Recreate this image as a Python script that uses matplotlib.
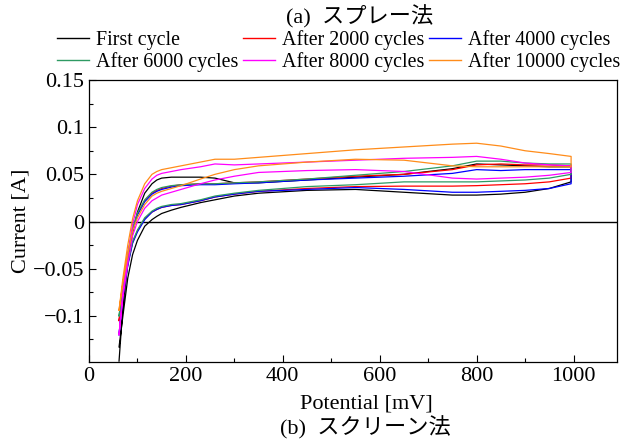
import matplotlib
matplotlib.use("Agg")
import matplotlib.pyplot as plt
from matplotlib.ticker import MultipleLocator
from matplotlib.lines import Line2D

plt.rcParams['font.family'] = ['Liberation Serif', 'Noto Sans CJK JP']

# Potential grid [mV] shared by both scan branches
E = [62, 70, 80, 90, 100, 115, 130, 140, 150, 170, 190, 230, 260, 300, 350, 450,
     550, 650, 750, 800, 850, 900, 950, 995]

# Current [A], forward (upper) and reverse (lower) branches
first_up = [-0.148, -0.09, -0.045, -0.012, 0.010, 0.030, 0.040, 0.044, 0.046, 0.047, 0.047, 0.047,
            0.046, 0.041, 0.041, 0.044, 0.047, 0.050, 0.056, 0.061, 0.060, 0.059, 0.058, 0.058]
first_dn = [-0.133, -0.100, -0.060, -0.035, -0.020, -0.005, 0.002, 0.0055, 0.0085, 0.012, 0.015, 0.020,
            0.023, 0.027, 0.030, 0.033, 0.034, 0.031, 0.028, 0.028, 0.029, 0.031, 0.035, 0.042]

c2000_up = [-0.105, -0.07, -0.035, -0.008, 0.008, 0.022, 0.030, 0.033, 0.035, 0.0375, 0.039, 0.040,
            0.040, 0.041, 0.042, 0.045, 0.048, 0.050, 0.055, 0.060, 0.061, 0.060, 0.060, 0.059]
c2000_dn = [-0.105, -0.075, -0.045, -0.022, -0.010, 0.003, 0.010, 0.0128, 0.015, 0.017, 0.018, 0.022,
            0.026, 0.029, 0.032, 0.035, 0.037, 0.0375, 0.0375, 0.038, 0.039, 0.040, 0.042, 0.046]

c4000_up = [-0.12, -0.075, -0.037, -0.009, 0.007, 0.021, 0.029, 0.032, 0.034, 0.0365, 0.038, 0.039,
            0.039, 0.040, 0.041, 0.044, 0.046, 0.048, 0.051, 0.055, 0.054, 0.055, 0.055, 0.055]
c4000_dn = [-0.12, -0.08, -0.047, -0.023, -0.011, 0.002, 0.010, 0.0128, 0.015, 0.017, 0.018, 0.022,
            0.026, 0.029, 0.032, 0.034, 0.036, 0.034, 0.031, 0.031, 0.032, 0.033, 0.035, 0.040]

c6000_up = [-0.10, -0.068, -0.034, -0.007, 0.009, 0.023, 0.031, 0.034, 0.036, 0.038, 0.039, 0.040,
            0.040, 0.041, 0.042, 0.045, 0.049, 0.053, 0.059, 0.064, 0.064, 0.062, 0.061, 0.061]
c6000_dn = [-0.10, -0.073, -0.044, -0.021, -0.009, 0.004, 0.011, 0.014, 0.016, 0.018, 0.019, 0.023,
            0.027, 0.030, 0.033, 0.037, 0.039, 0.042, 0.042, 0.042, 0.043, 0.044, 0.046, 0.050]

c8000_up = [-0.12, -0.075, -0.035, -0.003, 0.018, 0.035, 0.045, 0.049, 0.051, 0.053, 0.055, 0.058,
            0.061, 0.060, 0.061, 0.063, 0.065, 0.067, 0.068, 0.069, 0.066, 0.062, 0.060, 0.059]
c8000_dn = [-0.12, -0.08, -0.045, -0.015, 0.000, 0.014, 0.022, 0.025, 0.028, 0.031, 0.034, 0.040,
            0.044, 0.048, 0.052, 0.054, 0.055, 0.053, 0.046, 0.045, 0.046, 0.047, 0.049, 0.052]

c10000_up = [-0.094, -0.06, -0.025, 0.003, 0.022, 0.040, 0.050, 0.053, 0.055, 0.057, 0.059, 0.063,
             0.066, 0.066, 0.068, 0.072, 0.076, 0.079, 0.082, 0.083, 0.080, 0.075, 0.072, 0.069]
c10000_dn = [-0.094, -0.065, -0.035, -0.010, 0.004, 0.018, 0.027, 0.030, 0.032, 0.035, 0.038, 0.045,
             0.050, 0.055, 0.059, 0.063, 0.066, 0.065, 0.059, 0.058, 0.058, 0.058, 0.058, 0.058]

labels = ['First cycle', 'After 2000 cycles', 'After 4000 cycles',
          'After 6000 cycles', 'After 8000 cycles', 'After 10000 cycles']
colors = ['#000000', '#ff0000', '#0000ff', '#2e9a63', '#ff00ff', '#ff8c1a']
branches = [(first_up, first_dn), (c2000_up, c2000_dn), (c4000_up, c4000_dn),
            (c6000_up, c6000_dn), (c8000_up, c8000_dn), (c10000_up, c10000_dn)]

fig = plt.figure(figsize=(6.25, 4.41), dpi=100)
ax = fig.add_axes([0.1424, 0.179, 0.845, 0.6396])

ax.axhline(0, color='black', lw=1.0, zorder=1)

handles = []
for lab, col, (up, dn) in zip(labels, colors, branches):
    x = E + E[::-1]
    y = up + dn[::-1]
    ax.plot(x, y, color=col, lw=0.9, zorder=2)
    handles.append(Line2D([], [], color=col, lw=1.0, label=lab))

ax.set_xlim(0, 1090)
ax.set_ylim(-0.149, 0.15)
ax.set_xticks([0, 200, 400, 600, 800, 1000])
ax.set_yticks([-0.1, -0.05, 0, 0.05, 0.1, 0.15])
ax.set_yticklabels(['\u22120.1', '\u22120.05', '0', '0.05', '0.1', '0.15'])
ax.xaxis.set_minor_locator(MultipleLocator(100))
ax.yaxis.set_minor_locator(MultipleLocator(0.025))
ax.tick_params(which='both', direction='in', top=False, right=False, labelsize=16)
ax.tick_params(which='major', length=5, width=0.8)
ax.tick_params(which='minor', length=3, width=0.8)
for s in ax.spines.values():
    s.set_linewidth(0.9)

fig.text(0.033, 0.499, 'Current [A]', ha='center', va='center', rotation=90, fontsize=16)
fig.text(0.586, 0.084, 'Potential [mV]', ha='center', va='center', fontsize=16)
fig.text(0.584, 0.030, '(b)  スクリーン法', ha='center', va='center', fontsize=16)
fig.text(0.576, 0.962, '(a)  スプレー法', ha='center', va='center', fontsize=16)

# legend filled column-wise, so reorder to read row-wise
order = [0, 3, 1, 4, 2, 5]
fig.legend(handles=[handles[i] for i in order], loc='center', bbox_to_anchor=(0.5416, 0.884),
           ncol=3, frameon=False, fontsize=14.4, handlelength=1.6, handletextpad=0.35,
           columnspacing=0.25, labelspacing=0.08, borderaxespad=0, borderpad=0)

fig.savefig('out.png', dpi=100)
